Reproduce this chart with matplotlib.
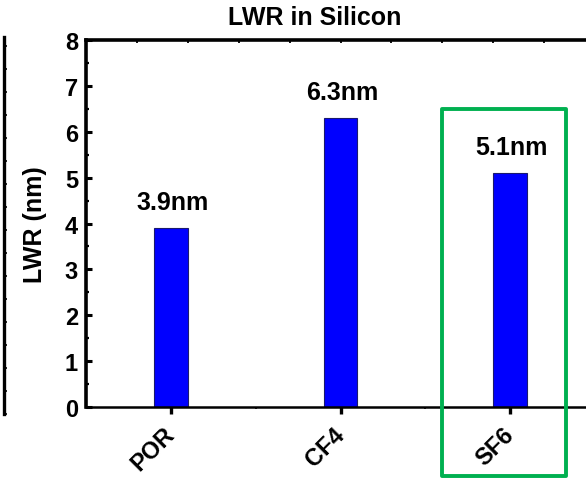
import numpy as np
import matplotlib
matplotlib.use("Agg")
import matplotlib.pyplot as plt
from matplotlib.patches import Rectangle
from matplotlib.ticker import MultipleLocator, FixedLocator
import matplotlib.transforms as mtransforms

# data
categories = ["POR", "CF4", "SF6"]
lwr_nm = [3.9, 6.3, 5.1]
value_labels = ["3.9nm", "6.3nm", "5.1nm"]
highlight = "SF6"

plt.rcParams["font.family"] = ["Liberation Sans", "DejaVu Sans"]
plt.rcParams["font.weight"] = "bold"

W, H = 586, 485
fig = plt.figure(figsize=(W / 100, H / 100), dpi=100)

# main axes; right spine falls outside the picture like in the reference
left_px, right_px, top_px, bot_px = 86.25, 594.75, 41, 408
ax = fig.add_axes([left_px / W, 1 - bot_px / H,
                   (right_px - left_px) / W, (bot_px - top_px) / H])

x = np.arange(1, len(categories) + 1)
ax.bar(x, lwr_nm, width=0.2, color="#0000ff", edgecolor="#1a1a6e", lw=0.8, zorder=2)
for xi, v, lab in zip(x, lwr_nm, value_labels):
    ax.annotate(lab, (xi, v), xytext=(1, 10), textcoords="offset points",
                ha="center", va="bottom", fontsize=18, fontweight="bold")

ax.set_xlim(0.5, 3.5)
ax.set_ylim(0, 8)
ax.set_xticks(x)
ax.set_xticklabels(categories, rotation=45, ha="right", va="center",
                   rotation_mode="anchor", fontsize=17, fontweight="bold")
offset = mtransforms.ScaledTranslation(5 / 100, 0, fig.dpi_scale_trans)
for t in ax.get_xticklabels():
    t.set_transform(t.get_transform() + offset)
ax.xaxis.set_minor_locator(FixedLocator([1.5, 2.5]))
ax.yaxis.set_major_locator(MultipleLocator(1))
ax.yaxis.set_minor_locator(MultipleLocator(0.5))

ax.tick_params(axis="x", which="major", direction="out", length=5, width=2.4,
               pad=12, top=False)
ax.tick_params(axis="x", which="minor", direction="out", length=1.5, width=1.2,
               top=False)
ax.tick_params(axis="y", which="major", direction="in", length=4.5, width=2.2,
               pad=6, labelsize=17, right=False)
ax.tick_params(axis="y", which="minor", direction="in", length=2.5, width=1.6,
               right=False)
for t in ax.get_yticklabels():
    t.set_fontweight("bold")

ax.spines["left"].set_linewidth(2.6)
ax.spines["top"].set_linewidth(2.6)
ax.spines["bottom"].set_linewidth(1.8)
ax.spines["right"].set_linewidth(2.6)

ax.set_ylabel("LWR (nm)", fontsize=18, fontweight="bold")
ax.yaxis.set_label_coords((47 - left_px) / (right_px - left_px), 0.5)

# top axis small inward ticks
axt = ax.twiny()
axt.set_xlim(ax.get_xlim())
axt.xaxis.set_major_locator(FixedLocator(np.arange(0.8, 3.3, 0.3)))
axt.tick_params(axis="x", direction="in", length=2, width=1.3, labeltop=False)
for s in axt.spines.values():
    s.set_visible(False)

# highlight box around SF6
hx = categories.index(highlight) + 1
rect = Rectangle((hx - 0.4, -1.5), 0.73, 8.0, fill=False, edgecolor="#00b050",
                 lw=2.8, joinstyle="round", clip_on=False, zorder=10,
                 transform=ax.transData)
ax.add_patch(rect)

fig.text(315 / W, 1 - 18 / H, "LWR in Silicon", ha="center", va="center",
         fontsize=18, fontweight="bold")

# edge of the neighbouring panel at the far left
axl = fig.add_axes([-0.5, 1 - 415 / H, 0.5 + 4.5 / W, (415 - 38) / H])
axl.set_xticks([])
axl.set_ylim(0, 16.4)
axl.yaxis.set_major_locator(MultipleLocator(1))
axl.tick_params(axis="y", left=False, right=True, labelleft=False,
                direction="out", length=2, width=1.2)
for k in ("left", "top", "bottom"):
    axl.spines[k].set_visible(False)
axl.spines["right"].set_linewidth(2.4)
axl.patch.set_visible(False)

fig.savefig("out.png", dpi=100)
